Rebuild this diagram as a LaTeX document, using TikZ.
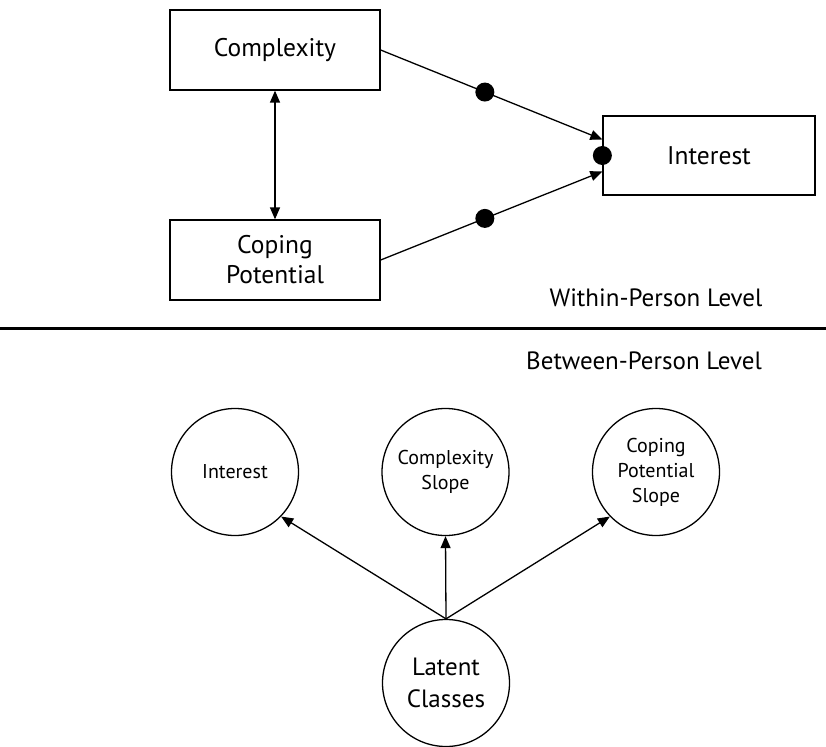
\documentclass[tikz,border=0pt]{standalone}
\usepackage{fontspec}
\setmainfont{PT Sans}
\usetikzlibrary{arrows.meta}
\begin{document}
\begin{tikzpicture}[x=1pt,y=-1pt,
  box/.style={draw, line width=1.3pt, minimum width=210pt, minimum height=80pt,
    font=\fontsize{25.5}{30}\selectfont, align=center, inner sep=0pt},
  circ/.style={draw, circle, line width=1.3pt, minimum size=127pt, inner sep=0pt,
    align=center, font=\fontsize{20}{25}\selectfont},
  arr/.style={line width=1.3pt, -{Triangle[length=12pt,width=10pt]}},
  darr/.style={line width=1.3pt, {Triangle[length=12pt,width=10pt]}-{Triangle[length=12pt,width=10pt]}},
  dot/.style={circle, fill=black, minimum size=19pt, inner sep=0pt},
  lbl/.style={font=\fontsize{25}{30}\selectfont, inner sep=0pt}]
\useasboundingbox (0,0) rectangle (826,746);
\fill[white] (0,0) rectangle (826,746);
% within-person level
\node[box] (cx) at (275,50) {Complexity};
\node[box] (cp) at (275,260) {Coping\\Potential};
\node[box, minimum width=212pt, minimum height=79pt] (in) at (709,155.5) {Interest};
\draw[darr] (cx.south) -- (cp.north);
\draw[arr] (cx.east) -- ([yshift=16pt]in.west) node[dot, pos=0.47] (d1) {};
\draw[arr] (cp.east) -- ([yshift=-16pt]in.west) node[dot, pos=0.47] (d2) {};
\node[dot] (d3) at (in.west) {};
\node[lbl] (wl) at (656,298) {Within-Person Level};
% separator
\coordinate (sl) at (0,328);
\coordinate (sr) at (826,328);
\draw[line width=3pt] (sl) -- (sr);
\node[lbl] (bl) at (644,361) {Between-Person Level};
% between-person level
\node[circ] (ci) at (235,472) {Interest};
\node[circ] (cs) at (445.5,472) {Complexity\\Slope};
\node[circ] (cps) at (656,472) {Coping\\Potential\\Slope};
\node[circ, font=\fontsize{25}{32}\selectfont] (lc) at (446,683) {Latent\\Classes};
\draw[arr] (lc.north) -- (ci.-44);
\draw[arr] (lc.north) -- (cs.south);
\draw[arr] (lc.north) -- (cps.-136);
\end{tikzpicture}
\end{document}
